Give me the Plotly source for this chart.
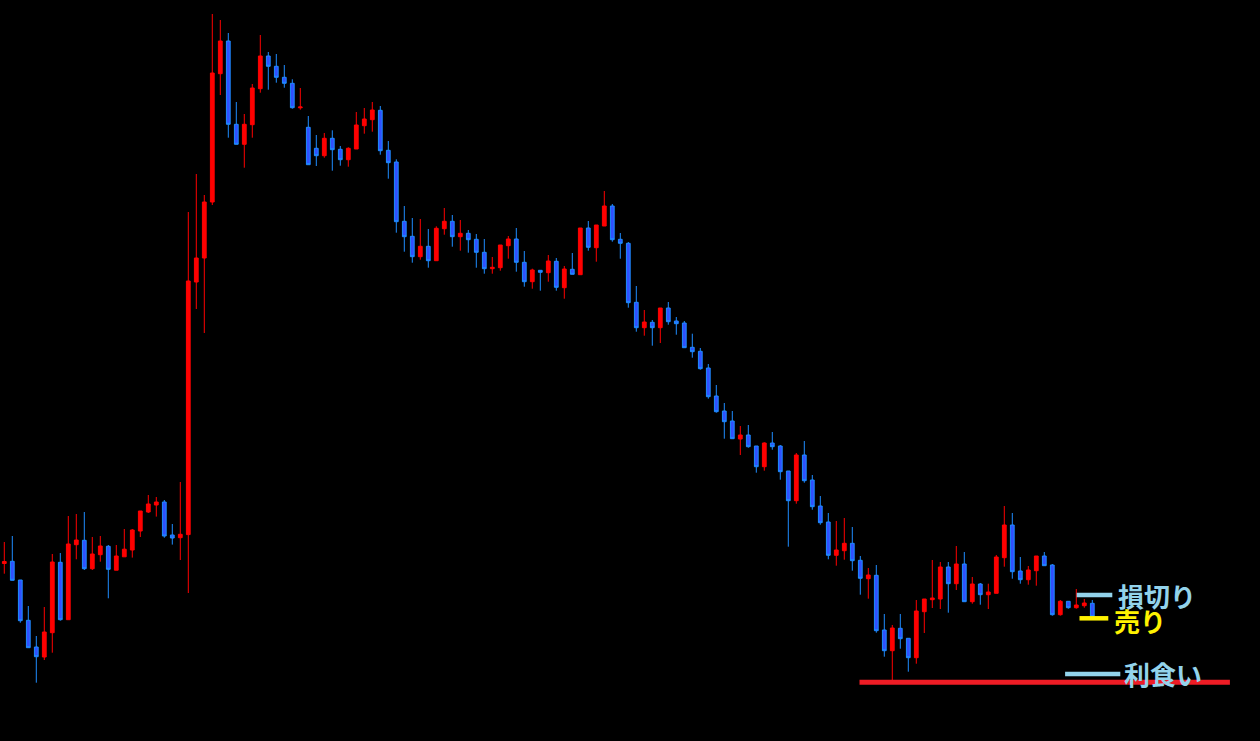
import plotly.graph_objects as go

# Candle values (arbitrary price units, bottom of chart = 0)
open_ = [177.5, 179.7, 161, 120.7, 94, 84, 108.3, 178.7, 121.3, 196.3,
         200.7, 172.3, 186.3, 194.7, 170.8, 184.2, 191, 210, 229, 236,
         239, 206, 203.3, 206.4, 459, 483, 539, 667.3, 700, 616.7,
         596.7, 616.3, 652.3, 685, 674.7, 663.7, 657.7, 633.2, 613.7, 592.7,
         585.3, 602.7, 591.7, 581.3, 592, 615.3, 621.3, 630.7, 590.7, 579,
         519.7, 504.7, 484.3, 494.7, 480.3, 512.3, 519.7, 504.3, 507.7, 501.7,
         488.7, 472.3, 473.3, 495.3, 502, 478.7, 459.3, 470.7, 468.3, 479.7,
         453.3, 471.7, 466.3, 513, 493.3, 515, 535, 501.7, 497.7, 438.7,
         413.3, 418.7, 413.3, 433, 420, 418, 393.7, 389.7, 373, 345,
         330, 320, 302, 306, 295, 274.3, 298, 295, 270, 240.3,
         286, 261, 235, 219, 185.7, 190.3, 197.7, 180.7, 162.3, 165.7,
         111, 90.3, 112.7, 102.7, 83.3, 129.3, 141.3, 142, 174, 157.3,
         177, 139.3, 157, 146.3, 147.7, 183.3, 216, 170, 161.3, 170.3,
         185, 176, 126.3, 139.7, 133.3, 135.3, 137.7]
high = [199, 205, 161, 135, 105, 134, 187, 188, 225, 227,
        229, 204, 205, 196, 196, 212, 212, 230, 246, 244,
        241, 217, 259, 529, 567, 546, 727, 721, 708, 639,
        627, 657, 706, 689, 687, 676, 661.7, 653, 625, 606,
        608, 610.7, 595, 593.7, 629, 633, 639, 635, 600, 581.7,
        535, 523, 522, 512, 514.7, 533, 526, 521, 511, 507,
        502, 484, 496, 505, 513, 490, 472.3, 470.7, 486, 483,
        475, 488, 513, 520, 516, 550, 537, 508, 499, 455,
        431, 421, 433, 439, 424, 420, 407.3, 393, 377, 356,
        338, 330, 315, 316, 295, 298.7, 309, 296, 270, 288,
        300, 266, 245, 228, 220, 223, 214, 185, 173, 176,
        127, 116, 127, 102.7, 141, 142, 181, 179, 179, 195,
        189, 164, 158, 157.3, 186, 235, 228, 184, 175, 185,
        189, 177, 141, 140, 152, 142, 141]
low = [167.3, 160.5, 118.3, 93, 58.3, 81, 88.3, 120.3, 121.3, 181.7,
       171, 171, 179.3, 142.7, 170.8, 184.2, 183.4, 204, 228, 224.4,
       203.3, 196.4, 181, 148, 432, 408, 536, 646, 603.3, 596.7,
       573.3, 603.3, 648.3, 651.3, 658.3, 653.3, 632.3, 631.3, 576.3, 575,
       583.3, 570.3, 575.3, 574.3, 592, 607.3, 609.3, 586.3, 562.3, 508.3,
       489.3, 478.3, 481.3, 473.3, 480.3, 506.3, 494.3, 490.3, 488.3, 473.3,
       467.3, 467.3, 470.3, 482.3, 469.3, 454.3, 452.3, 450.3, 459.3, 450.3,
       442.3, 466.7, 466.3, 490.3, 479.3, 515, 499.3, 482.3, 433.3, 409.3,
       405.3, 395.3, 398, 416.3, 406.3, 393.3, 383.3, 371.3, 342.3, 328.3,
       302.3, 302.3, 286, 293.3, 268.3, 270.3, 291.3, 261.3, 194.3, 237.3,
       258.3, 231.3, 216.3, 181.7, 175.3, 181.3, 170.3, 146.3, 142.3, 108.3,
       84.3, 61, 92.3, 69.3, 77.3, 108, 133, 132, 128.3, 151,
       139.3, 137.3, 136.3, 132, 147.7, 174.3, 162.3, 157.3, 156.3, 155.3,
       175.3, 125.3, 125.3, 132.3, 132.3, 133.3, 123.3]
close = [179.5, 160.7, 120.3, 93.3, 84.3, 109, 179, 121.3, 197, 201,
         172.3, 187, 195, 171.7, 185, 191.8, 211, 230, 237, 239,
         205, 203, 206.7, 460, 483, 539, 668, 700, 616.7, 596.7,
         616.7, 653, 685, 674.7, 663.7, 657.7, 633.3, 634, 576.3, 585.3,
         602.7, 591.3, 581.3, 592.7, 616, 622, 631, 590.3, 578.3, 519.3,
         504.3, 484.3, 494.7, 480.3, 512.7, 519.7, 504.3, 507.7, 501.3, 488.7,
         472.3, 473.7, 496, 502, 478.7, 459.3, 471, 468.7, 480, 453.7,
         472, 466.7, 513, 493.7, 516, 535, 501.3, 497.7, 438.3, 413.3,
         419, 413.3, 433, 419.3, 417.3, 393.3, 389.3, 372.3, 344.3, 329.3,
         319.3, 302.3, 306, 294.3, 274.3, 298, 294.3, 269.3, 240.3, 286,
         260.3, 234.3, 218.3, 185.7, 191, 197.7, 180.3, 162.7, 166, 110.3,
         90.3, 113, 102.3, 83.3, 130, 142, 143, 174, 157.3, 177,
         139.3, 157, 146.3, 149, 184, 216, 169.3, 161.3, 171, 185,
         175.3, 126.3, 139.7, 133.3, 136, 138, 124.3]

# Trade levels and labels
labels = ["損切り", "売り", "利食い"]
label_levels = [146, 122.7, 67]
label_colors = ["#93D3EB", "#FFF200", "#93D3EB"]
take_profit_level = 58.7

x = list(range(len(open_)))

fig = go.Figure()
fig.add_trace(go.Candlestick(
    x=x, open=open_, high=high, low=low, close=close,
    increasing=dict(line=dict(color="#FF0000", width=1), fillcolor="#FF0000"),
    decreasing=dict(line=dict(color="#1E8CFF", width=1), fillcolor="#3050FF"),
    whiskerwidth=0,
    hoverinfo="skip",
))

# red take-profit line
fig.add_shape(type="line", xref="x", yref="y",
              x0=106.9, x1=153.2, y0=take_profit_level, y1=take_profit_level,
              line=dict(color="#EE1C25", width=5), layer="above")

# label marker lines
seg = [(134.05, 138.5), (134.4, 138.0), (132.6, 139.5)]
text_x = [138.9, 138.45, 139.75]
text_dy = [0, -2.5, 1]
for lab, lev, col, (a, b), tx, dy in zip(labels, label_levels, label_colors, seg, text_x, text_dy):
    fig.add_shape(type="line", xref="x", yref="y", x0=a, x1=b, y0=lev, y1=lev,
                  line=dict(color=col, width=4.5), layer="above")
    fig.add_annotation(x=tx, y=lev + dy, xref="x", yref="y", text="<b>" + lab + "</b>",
                       showarrow=False, xanchor="left", yanchor="middle",
                       font=dict(family="Noto Sans CJK JP", size=26, color=col))

fig.update_layout(
    width=1260, height=741,
    margin=dict(l=0, r=0, t=0, b=0),
    paper_bgcolor="#000000", plot_bgcolor="#000000",
    showlegend=False,
    xaxis=dict(range=[-0.5375, 156.9625], visible=False, showgrid=False,
               rangeslider=dict(visible=False), fixedrange=True),
    yaxis=dict(range=[0, 741], visible=False, showgrid=False, fixedrange=True),
    boxgap=0.33,
)

fig.write_html(
    "out.html",
    config={"displayModeBar": False},
    post_script="document.body.style.margin='0';document.body.style.background='#000';",
)
